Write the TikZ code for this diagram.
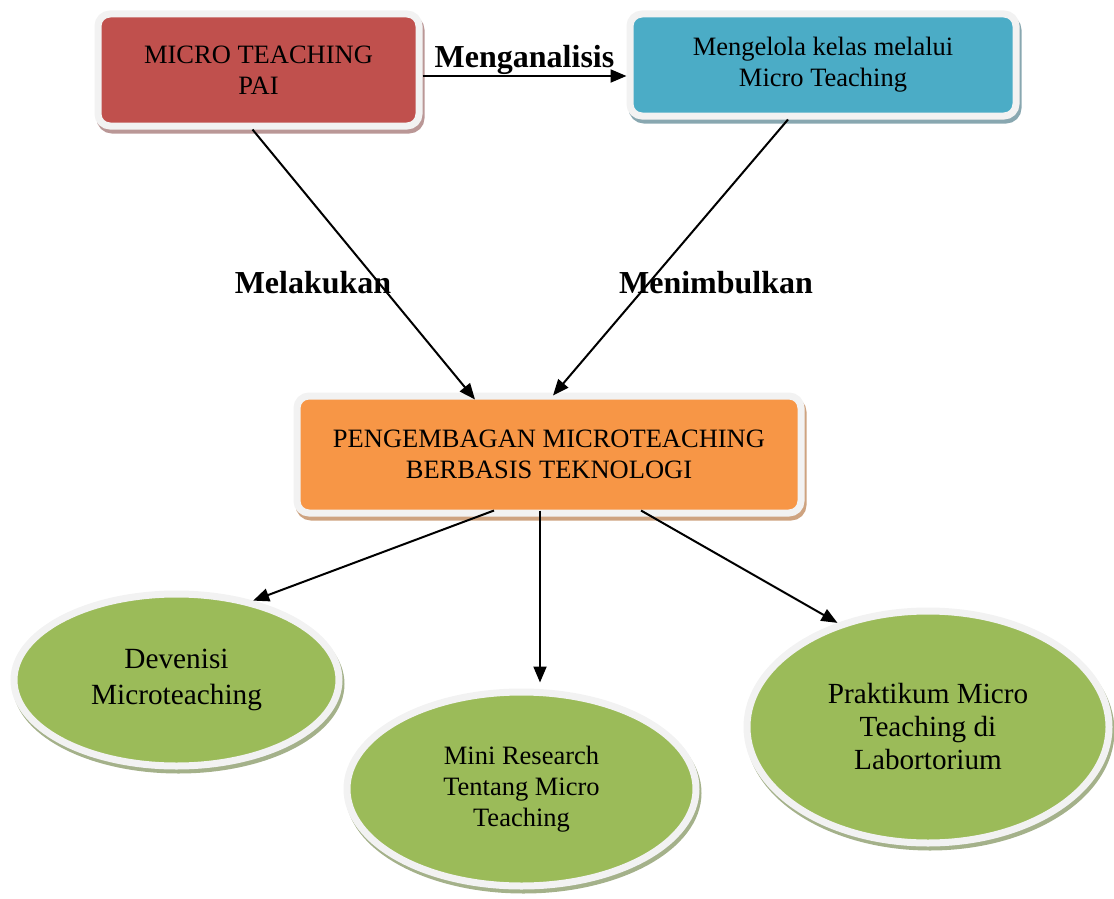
\documentclass[tikz,border=0pt]{standalone}
\usepackage{fontspec}
\setmainfont{Liberation Serif}
\usetikzlibrary{arrows.meta,shapes.geometric,shadows}

\definecolor{rimgrey}{HTML}{F2F2F2}
\definecolor{paired}{HTML}{C0504D}
\definecolor{kelasblue}{HTML}{4BACC6}
\definecolor{devorange}{HTML}{F79646}
\definecolor{topicgreen}{HTML}{9BBB59}

\begin{document}
\begin{tikzpicture}[
  x=1pt, y=-1pt,
  font=\fontsize{26.5}{31}\selectfont,
  box/.style={
    rectangle, rounded corners=12pt, draw=rimgrey, line width=7pt,
    align=center, inner sep=0pt
  },
  bred/.style={box, fill=paired,
    general shadow={shadow xshift=2pt, shadow yshift=-4pt, fill=paired!45!gray!70, draw=paired!45!gray!70}},
  bblue/.style={box, fill=kelasblue,
    general shadow={shadow xshift=2pt, shadow yshift=-4pt, fill=kelasblue!40!gray!80, draw=kelasblue!40!gray!80}},
  borange/.style={box, fill=devorange,
    general shadow={shadow xshift=2pt, shadow yshift=-4pt, fill=devorange!55!gray!80, draw=devorange!55!gray!80}},
  topic/.style={
    ellipse, draw=rimgrey, line width=7pt, fill=topicgreen,
    align=center, inner sep=0pt,
    general shadow={shadow xshift=2pt, shadow yshift=-4pt, fill=topicgreen!50!gray!80, draw=topicgreen!50!gray!80}
  },
  verb/.style={font=\fontsize{32}{36}\selectfont\bfseries},
  arrow/.style={-{Triangle[length=16pt,width=13pt]}, line width=2pt, black},
]
\useasboundingbox (0,0) rectangle (1114,899);

% Top row
\node[bred, minimum width=321pt, minimum height=112pt] (pai) at (258.5,70)
  {MICRO TEACHING\\PAI};
\node[bblue, minimum width=386pt, minimum height=102pt] (kelas) at (823,65)
  {Mengelola kelas melalui\\Micro Teaching};

% Central box
\node[borange, minimum width=504pt, minimum height=117pt] (peng) at (549,454.5)
  {PENGEMBAGAN MICROTEACHING\\BERBASIS TEKNOLOGI};

% Three topics below
\node[topic, minimum width=325pt, minimum height=172pt,
  font=\fontsize{29.3}{36}\selectfont] (dev) at (176.5,680)
  {Devenisi\\Microteaching};
\node[topic, minimum width=349pt, minimum height=194pt] (mini) at (521.5,789)
  {Mini Research\\Tentang Micro\\Teaching};
\node[topic, minimum width=362pt, minimum height=232pt,
  font=\fontsize{29.2}{33}\selectfont] (prak) at (928,727)
  {Praktikum Micro\\Teaching di\\Labortorium};

% Connectors
\draw[arrow] ([yshift=-6pt]pai.east) -- ([yshift=-6pt]pai.east -| kelas.west)
  node[midway, above, inner sep=0pt, verb] (analisis) {Menganalisis};
\draw[arrow] ([xshift=-6pt]pai.south) -- ([xshift=-74pt,yshift=-7pt]peng.north);
\draw[arrow] ([xshift=-35pt]kelas.south) -- ([xshift=4pt,yshift=-3pt]peng.north);
\draw[arrow] ([xshift=-55pt,yshift=6pt]peng.south) -- (dev.46);
\draw[arrow] ([xshift=-9pt,yshift=6pt]peng.south) -- ([xshift=-9pt,yshift=6pt]peng.south |- mini.north);
\draw[arrow] ([xshift=92pt,yshift=6pt]peng.south) -- (prak.131);

% Verb labels
\node[verb] (lakukan) at (313,283) {Melakukan};
\node[verb] (timbul) at (716,283) {Menimbulkan};

\end{tikzpicture}
\end{document}
